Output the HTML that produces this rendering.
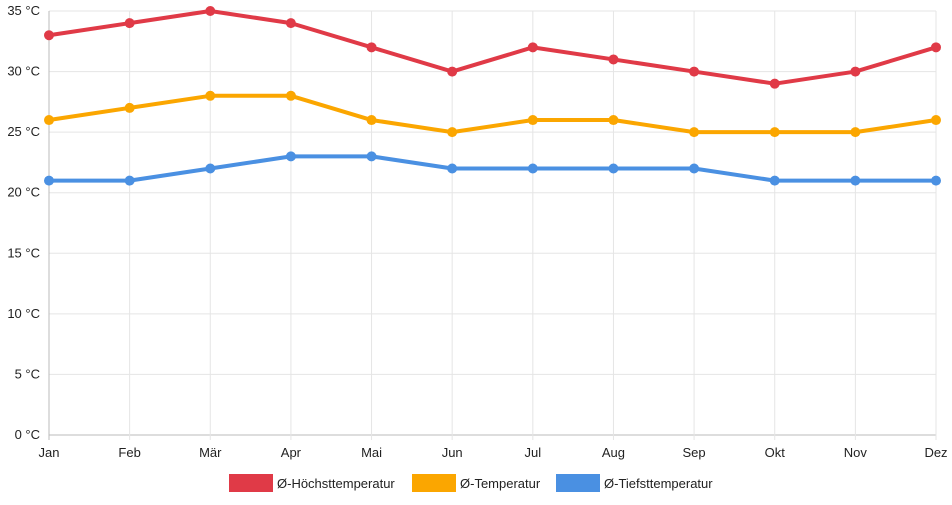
<!DOCTYPE html>
<html><head><meta charset="utf-8"><style>
body{margin:0;background:#fff;font-family:"Liberation Sans",sans-serif;}
svg text{font-family:"Liberation Sans",sans-serif;font-size:13px;fill:#222;}
</style></head><body>
<svg id="c" width="952" height="500"></svg>
<script>
const months=["Jan","Feb","Mär","Apr","Mai","Jun","Jul","Aug","Sep","Okt","Nov","Dez"];
const highTemps=[33,34,35,34,32,30,32,31,30,29,30,32];
const avgTemps=[26,27,28,28,26,25,26,26,25,25,25,26];
const lowTemps=[21,21,22,23,23,22,22,22,22,21,21,21];
const yTicks=[0,5,10,15,20,25,30,35];
const seriesNames=["Ø-Höchsttemperatur","Ø-Temperatur","Ø-Tiefsttemperatur"];
const seriesColors=["#e03a47","#fba600","#4a90e2"];
const svg=document.getElementById('c');
const NS='http://www.w3.org/2000/svg';
const x0=49,x1=936,y0=435,y1=11;
const xs=i=>x0+(x1-x0)*i/(months.length-1);
const ys=v=>y0-(y0-y1)*v/35;
function mk(t,a){const e=document.createElementNS(NS,t);for(const k in a)e.setAttribute(k,a[k]);svg.appendChild(e);return e;}
yTicks.forEach(v=>{
 const l=mk('line',{x1:x0,x2:x1,y1:ys(v),y2:ys(v),stroke:v===0?'#bbb':'#e5e5e5'});
 
 
 const t=mk('text',{x:x0-9,y:ys(v)+4,'text-anchor':'end'});t.textContent=v+' °C';
 
 
});
months.forEach((m,i)=>{
 const l=mk('line',{x1:xs(i),x2:xs(i),y1:y1,y2:y0+5,stroke:i===0?'#bbb':'#e5e5e5'});
 
 
 const t=mk('text',{x:xs(i),y:y0+22,'text-anchor':'middle'});t.textContent=m;
 
 
});
[highTemps,avgTemps,lowTemps].forEach((d,s)=>{
 const p=mk('polyline',{points:d.map((v,i)=>xs(i)+','+ys(v)).join(' '),fill:'none',stroke:seriesColors[s],'stroke-width':4,'stroke-linejoin':'round'});
 
 
 d.forEach((v,i)=>{const c=mk('circle',{cx:xs(i),cy:ys(v),r:5,fill:seriesColors[s]});
 
 });
});
const lx=[229,412,556];
seriesNames.forEach((n,s)=>{
 const r=mk('rect',{x:lx[s],y:474,width:44,height:18,fill:seriesColors[s]});
 
 
 const t=mk('text',{x:lx[s]+48,y:488});t.textContent=n;
 
 
});
</script>
</body></html>
